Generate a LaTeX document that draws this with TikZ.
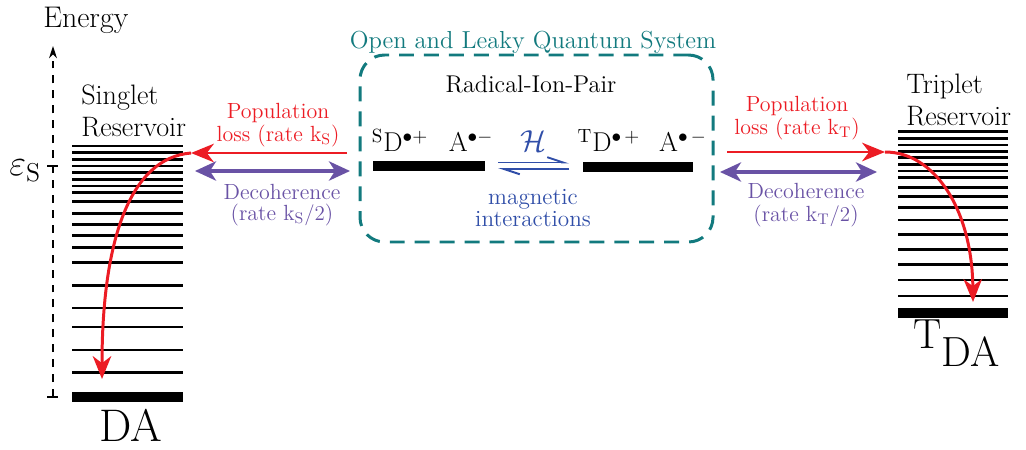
\documentclass[tikz,border=0pt]{standalone}
\usepackage{fontspec}
\usetikzlibrary{arrows.meta}
\definecolor{cred}{RGB}{236,28,36}
\definecolor{cpurple}{RGB}{105,82,165}
\definecolor{cteal}{RGB}{18,122,126}
\definecolor{cblue}{RGB}{48,78,168}
\newcommand\fsz[2]{\fontsize{#1}{#2}\selectfont}
\tikzset{
  level/.style={line width=1.7pt},
  ground/.style={line width=5.5pt},
  loss/.style={cred,line width=1.7pt,-{Stealth[length=13pt,width=10.5pt,inset=4pt]}},
  decoh/.style={cpurple,line width=1.8pt,{Stealth[length=12pt,width=11pt,inset=3.5pt]}-{Stealth[length=12pt,width=11pt,inset=3.5pt]}},
  harp/.style={cblue,line width=1.1pt,-{Straight Barb[left,length=9pt,width=6pt]}},
  lbl/.style={inner sep=0pt,align=center},
}
\begin{document}
\begin{tikzpicture}[x=0.02cm,y=-0.02cm]
\useasboundingbox (0,0) rectangle (1026,449);
% energy axis
\coordinate (axb) at (53,397);
\coordinate (axt) at (53,46);
\draw[line width=0.8pt,dash pattern=on 4.5pt off 4pt,-{Stealth[length=7pt,width=4.5pt]}] (axb) -- (axt);
\draw[line width=0.8pt] (47,397) -- (58,397);
\draw[line width=0.8pt] (47,166) -- (58,166);
\node[lbl,anchor=base west,font=\fsz{17}{20}] (energy) at (43,28) {Energy};
\node[lbl,anchor=west,font=\fsz{21}{24}] (eps) at (9,171) {$\varepsilon_{\mathrm{S}}$};
% singlet reservoir
\foreach \y in {146,152.7,159.3,166,172.7,179.3,186,192.7,201.7,213.3,224.7,235.3,247.3,262.3,285.3,308,327,350,372.7}
  \draw[level] (72,\y) -- (183,\y);
\draw[ground] (72,397.3) -- (183,397.3);
\node[lbl,anchor=west,align=left,font=\fsz{16}{17.8}] (sres) at (81,111) {Singlet\\Reservoir};
\node[lbl,anchor=base west,font=\fsz{26}{30}] (da) at (99,441) {DA};
% triplet reservoir
\foreach \y in {131.7,138.3,145,151.7,157.7,164.3,171,177.7,187.7,196.7,207.3,220,234.3,249.3,264.3,280,296}
  \draw[level] (898,\y) -- (1008,\y);
\draw[ground] (898,313.3) -- (1008,313.3);
\node[lbl,anchor=west,align=left,font=\fsz{16}{18}] (tres) at (906,100) {Triplet\\Reservoir};
\node[lbl,anchor=base west,font=\fsz{24}{28}] (tda) at (913,366) {\raisebox{0.42em}{T}DA};
% open system box
\node[draw=cteal,line width=1.7pt,dash pattern=on 8.5pt off 5.7pt,rounded corners=14pt,minimum width=353*0.02cm,minimum height=187*0.02cm] (box) at (536.5,148.5) {};
\node[lbl,text=cteal,font=\fsz{14}{16}] (boxt) at (533,42) {Open and Leaky Quantum System};
\node[lbl,font=\fsz{13.8}{16}] (rip) at (531,84) {Radical-Ion-Pair};
\draw[ground] (373,166) -- (485,166);
\draw[ground] (583,167) -- (693,167);
\node[lbl,anchor=base,font=\fsz{15.5}{18}] (sd) at (400,152) {$^{\mathrm{S}}$D$^{\bullet+}$};
\node[lbl,anchor=base,font=\fsz{15.5}{18}] (sa) at (471,152) {A$^{\bullet-}$};
\node[lbl,anchor=base,font=\fsz{15.5}{18}] (td) at (609,152) {$^{\mathrm{T}}$D$^{\bullet\,+}$};
\node[lbl,anchor=base,font=\fsz{15.5}{18}] (ta) at (683,152) {A$^{\bullet\,-}$};
\node[lbl,text=cblue,font=\fsz{17}{20}] (ham) at (533,141) {$\mathcal{H}$};
\coordinate (eqL1) at (498,162.5);
\coordinate (eqR1) at (569,162.5);
\coordinate (eqL2) at (498,169);
\coordinate (eqR2) at (569,169);
\draw[harp] (eqL1) -- (eqR1);
\draw[harp] (eqR2) -- (eqL2);
\node[lbl,text=cblue,font=\fsz{13.2}{12.6}] (mag) at (533,208) {magnetic\\interactions};
% singlet side arrows
\coordinate (sl0) at (347,153);
\coordinate (sl1) at (191,153);
\draw[loss] (sl0) -- (sl1);
\coordinate (sd0) at (195,171);
\coordinate (sd1) at (350,171);
\draw[decoh] (sd0) -- (sd1);
\node[lbl,text=cred,font=\fsz{12.5}{13}] (spl) at (278,125) {Population\\loss (rate k$_{\mathrm{S}}$)};
\node[lbl,text=cpurple,font=\fsz{12.5}{12}] (sdc) at (282,205) {Decoherence\\(rate k$_{\mathrm{S}}/2$)};
\coordinate (sdrop) at (102,379);
\draw[loss] (sl1) .. controls (130,158) and (102,240) .. (sdrop);
% triplet side arrows
\coordinate (tl0) at (727,152);
\coordinate (tl1) at (885,152);
\draw[loss] (tl0) -- (tl1);
\coordinate (td0) at (720,172);
\coordinate (td1) at (877,172);
\draw[decoh] (td0) -- (td1);
\node[lbl,text=cred,font=\fsz{12.5}{13}] (tpl) at (797,118) {Population\\loss (rate k$_{\mathrm{T}}$)};
\node[lbl,text=cpurple,font=\fsz{12.5}{13.5}] (tdc) at (806,205) {Decoherence\\(rate k$_{\mathrm{T}}/2$)};
\coordinate (tdrop) at (973,302);
\draw[loss] (tl1) .. controls (935,152) and (972,210) .. (tdrop);
\end{tikzpicture}
\end{document}
